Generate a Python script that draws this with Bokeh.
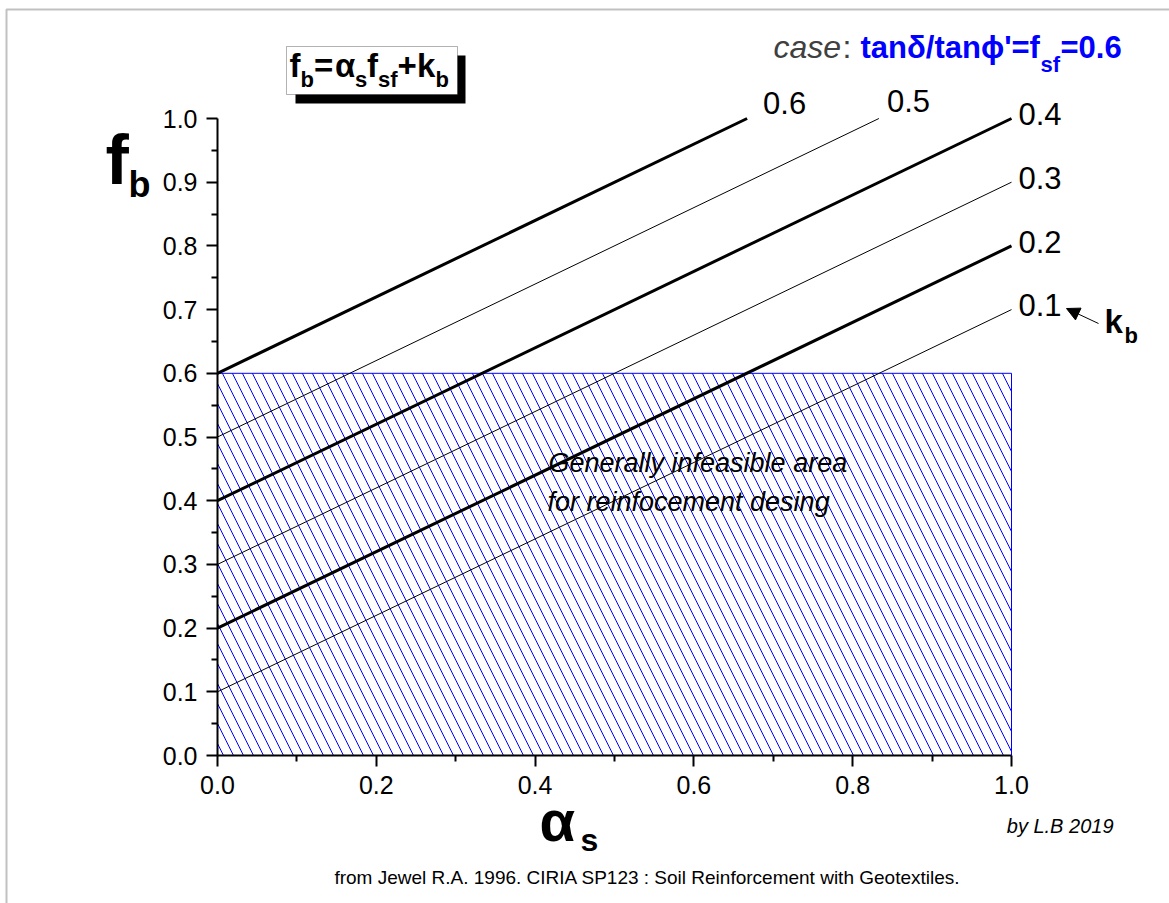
from bokeh.plotting import figure
from bokeh.models import (Range1d, FixedTicker, PrintfTickFormatter, Label,
                          BoxAnnotation, Arrow, NormalHead)
from bokeh.embed import file_html
from bokeh.resources import INLINE

# ---------------- data ----------------
fsf = 0.6
kb_values = [0.6, 0.5, 0.4, 0.3, 0.2, 0.1]
kb_labels = ["0.6", "0.5", "0.4", "0.3", "0.2", "0.1"]
alpha_start = [0.0, 0.0, 0.0, 0.0, 0.0, 0.0]
fb_start = [0.6, 0.5, 0.4, 0.3, 0.2, 0.1]
alpha_end = [0.667, 0.833, 1.0, 1.0, 1.0, 1.0]
fb_end = [1.0, 1.0, 1.0, 0.9, 0.8, 0.7]
heavy = [True, False, True, False, True, False]

area_left = [0.0]
area_right = [1.0]
area_bottom = [0.0]
area_top = [0.6]

x_ticks = [0.0, 0.2, 0.4, 0.6, 0.8, 1.0]
x_minor = [0.1, 0.3, 0.5, 0.7, 0.9]
y_ticks = [0.0, 0.1, 0.2, 0.3, 0.4, 0.5, 0.6, 0.7, 0.8, 0.9, 1.0]
y_minor = [0.05, 0.15, 0.25, 0.35, 0.45, 0.55, 0.65, 0.75, 0.85, 0.95]

# ---------------- layout ----------------
W, H = 1169, 903
FL, FR, FT, FB = 217, 1011, 118, 755   # pixel position of data 0..1
PXX = FR - FL
PXY = FB - FT
FONT = "Liberation Sans"


def X(px):
    return (px - FL) / PXX


def Y(py):
    return (FB - py) / PXY


p = figure(width=W, height=H, output_backend="svg", toolbar_location=None,
           x_range=Range1d(X(0), X(W)), y_range=Range1d(Y(H), Y(0)),
           min_border=0, min_border_left=0, min_border_right=0,
           min_border_top=0, min_border_bottom=0)
p.grid.visible = False
p.outline_line_color = None
p.background_fill_color = "white"
p.border_fill_color = "white"


def lab(px, py, text, size, style="normal", color="black", align="left", font=FONT):
    # py is the wanted alphabetic baseline (pixels); compensate renderer offset
    p.add_layout(Label(x=X(px), y=Y(py - 0.4 * size), text=text, text_font=font,
                       text_font_size=f"{size}px", text_font_style=style,
                       text_color=color, text_align=align,
                       text_baseline="alphabetic"))


for ax, tk, mn in ((p.xaxis[0], x_ticks, x_minor), (p.yaxis[0], y_ticks, y_minor)):
    ax.fixed_location = 0
    ax.bounds = (0, 1)
    ax.ticker = FixedTicker(ticks=tk, minor_ticks=mn)
    ax.formatter = PrintfTickFormatter(format="%.1f")
    ax.axis_line_width = 2
    ax.axis_line_color = "black"
    ax.major_tick_line_width = 2
    ax.minor_tick_line_width = 2
    ax.major_tick_in = 0
    ax.minor_tick_in = 0
    ax.major_tick_out = 11
    ax.minor_tick_out = 6
    ax.major_label_text_font = FONT
    ax.major_label_text_font_size = "25px"
    ax.major_label_text_color = "black"
    ax.major_label_standoff = 9

# overall border
p.add_layout(BoxAnnotation(left=X(6), right=X(1180), top=Y(9), bottom=Y(915),
                           fill_color=None, line_color="#333333", line_width=2))

# hatched infeasible region
p.quad(left=area_left, right=area_right, bottom=area_bottom, top=area_top,
       fill_color=None, line_color="#0000ff", line_width=1,
       hatch_pattern="\\", hatch_color="#0000ff", hatch_scale=20, hatch_weight=1)

# kb lines
for a0, f0, a1, f1, hv in zip(alpha_start, fb_start, alpha_end, fb_end, heavy):
    p.line([a0, a1], [f0, f1], line_color="black", line_width=3 if hv else 1)

# kb labels at line ends
label_off = {"0.6": (16, 3), "0.5": (8, 5)}
for a1, f1, t in zip(alpha_end, fb_end, kb_labels):
    dxp, dyp = label_off.get(t, (7, -8))
    px = FL + a1 * PXX + dxp
    py = FB - f1 * PXY - dyp
    lab(px, py, t, 31)

# kb arrow and label
p.add_layout(Arrow(x_start=X(1098), y_start=Y(323), x_end=X(1066), y_end=Y(308),
                   line_color="black", line_width=1,
                   end=NormalHead(size=13, fill_color="black", line_color="black")))
lab(1104, 334, "k", 33, "bold")
lab(1124, 344, "b", 22, "bold")

# formula box with shadow
p.add_layout(BoxAnnotation(left=X(295), right=X(465), top=Y(55), bottom=Y(103),
                           fill_color="black", fill_alpha=1, line_color=None))
p.add_layout(BoxAnnotation(left=X(286), right=X(457), top=Y(46), bottom=Y(94),
                           fill_color="white", fill_alpha=1, line_color="black",
                           line_width=1))
MS, SS = 33, 22
lab(289, 78, "f", MS, "bold")
lab(300, 88, "b", SS, "bold")
lab(313.5, 78, "=", MS, "bold")
lab(334.5, 78, "\u03b1", MS, "bold")
lab(354.5, 88, "s", SS, "bold")
lab(366.5, 78, "f", MS, "bold")
lab(377.5, 88, "sf", SS, "bold")
lab(397, 78, "+", MS, "bold")
lab(416.5, 78, "k", MS, "bold")
lab(435, 88, "b", SS, "bold")

# case text
lab(773, 59, "case", 32, "italic", "#404040")
lab(842, 59, ":", 32, "normal", "#404040")
lab(860, 59, "tan\u03b4/tan\u03d5'=f", 31, "bold", "#0000ff")
lab(1040, 73, "sf", 22, "bold", "#0000ff")
lab(1060, 59, "=0.6", 31, "bold", "#0000ff")

# axis titles
lab(105, 187, "f", 70, "bold")
lab(128, 198, "b", 36, "bold")
lab(539, 843, "\u03b1", 58, "bold")
lab(580, 852, "s", 32, "bold")

# region annotation
lab(548, 473, "Generally infeasible area", 27, "italic")
lab(547, 512, "for reinfocement desing", 27, "italic")

# credits
lab(1113, 833, "by L.B 2019", 20, "italic", "black", "right")
lab(647, 885, "from Jewel R.A. 1996. CIRIA SP123 : Soil Reinforcement with Geotextiles.",
    19, "normal", "black", "center")

open("out.html", "w").write(file_html(p, INLINE))
